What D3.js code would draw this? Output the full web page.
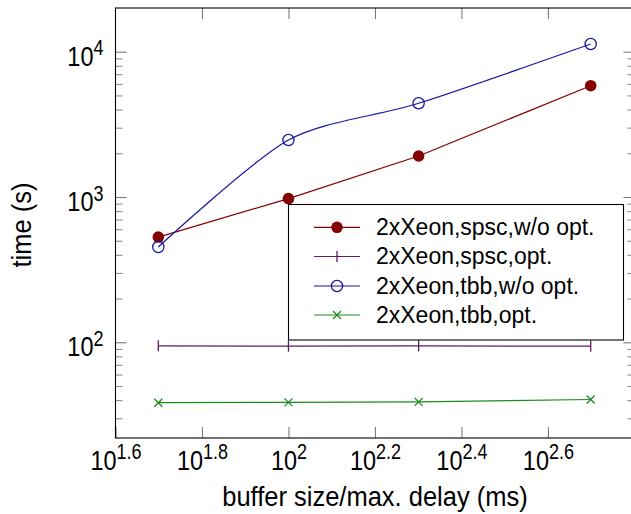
<!DOCTYPE html>
<html><head><meta charset="utf-8">
<script src="https://cdn.jsdelivr.net/npm/d3@7"></script>
<style>
html,body{margin:0;padding:0;background:#fff;}
svg{display:block;font-family:"Liberation Sans",Arial,sans-serif;}
</style></head><body>
<svg id="chart" width="631" height="514"></svg>
<script>
// ---- data ----
const bufferSizes = [50, 100, 200, 500];
const spscNoOpt = [530, 975, 1915, 5835];
const spscOpt = [94.5, 94, 94.5, 94];
const tbbNoOpt = [453, 2467, 4415, 11300];
const tbbOpt = [38.4, 38.6, 38.9, 40.4];
const seriesNames = ["2xXeon,spsc,w/o opt.", "2xXeon,spsc,opt.", "2xXeon,tbb,w/o opt.", "2xXeon,tbb,opt."];
const xTickExponents = ["1.6", "1.8", "2", "2.2", "2.4", "2.6"];
const yTickExponents = ["2", "3", "4"];
const xAxisLabel = "buffer size/max. delay (ms)";
const yAxisLabel = "time (s)";

// ---- styles ----
const seriesValues = [spscNoOpt, spscOpt, tbbNoOpt, tbbOpt];
const seriesColors = ["#850000", "#5e1d5e", "#1515a0", "#1a8c1a"];
const seriesMarkers = ["dot", "bar", "circle", "cross"];
const seriesSmooth = [false, false, true, false];

const svg = d3.select("#chart");
const pLeft = 115.5, pRight = 634.4, pTop = 8, pBottom = 438;
const x = d3.scaleLog().domain([Math.pow(10, 1.6), Math.pow(10, 2.8)]).range([pLeft, pRight]);
const y = d3.scaleLog().domain([Math.pow(10, 1.3413), Math.pow(10, 4.3008)]).range([pBottom, pTop]);

const xTicks = xTickExponents.map(e => Math.pow(10, +e));
const yTicks = yTickExponents.map(e => Math.pow(10, +e));
const yMinor = [];
for (let d = 1; d <= 4; d++) for (let m = 2; m <= 9; m++) {
  const v = m * Math.pow(10, d);
  if (v > y.domain()[0] && v < y.domain()[1]) yMinor.push(v);
}

svg.append("defs").append("clipPath").attr("id", "clip")
  .append("rect").attr("x", pLeft).attr("y", pTop).attr("width", pRight - pLeft).attr("height", pBottom - pTop);

const tickColor = "#7a7a7a", minorColor = "#8f8f8f";
const TICK_K = 1.18;
function styleTicks(g, color) {
  g.select(".domain").remove();
  g.selectAll(".tick line").attr("stroke", color).attr("stroke-width", 1.1);
}
function powLabel(sel, exps, tx, ty) {
  sel.each(function(d, i) {
    const t = d3.select(this);
    t.text(null)
      .attr("x", 0).attr("y", 0).attr("dy", null)
      .attr("transform", `translate(${tx},${ty}) scale(1,${TICK_K})`)
      .attr("font-size", 23.5).attr("fill", "#000")
      .attr("font-family", "Liberation Sans, Arial, sans-serif");
    t.append("tspan").text("10");
    t.append("tspan").attr("font-size", 18).attr("dy", -8.6).text(exps[i]);
  });
}

// x axis bottom
const gxb = svg.append("g").attr("transform", `translate(0,${pBottom})`)
  .call(d3.axisBottom(x).tickValues(xTicks).tickSize(-11).tickFormat(() => ""));
styleTicks(gxb, tickColor);
gxb.selectAll(".tick text").call(powLabel, xTickExponents, 0, 31.5);

// x axis top
const gxt = svg.append("g").attr("transform", `translate(0,${pTop})`)
  .call(d3.axisTop(x).tickValues(xTicks.slice(1)).tickSize(-11).tickFormat(() => ""));
styleTicks(gxt, tickColor);

// y axis left
const gyl = svg.append("g").attr("transform", `translate(${pLeft},0)`)
  .call(d3.axisLeft(y).tickValues(yTicks).tickSize(-11).tickFormat(() => ""));
styleTicks(gyl, tickColor);
gyl.selectAll(".tick text").call(powLabel, yTickExponents, -12, 13.3);
const gylm = svg.append("g").attr("transform", `translate(${pLeft},0)`)
  .call(d3.axisLeft(y).tickValues(yMinor).tickSize(-7).tickFormat(() => ""));
styleTicks(gylm, minorColor);

// y axis right
const gyr = svg.append("g").attr("transform", `translate(${pRight},0)`)
  .call(d3.axisRight(y).tickValues(yTicks).tickSize(-11).tickFormat(() => ""));
styleTicks(gyr, tickColor);
const gyrm = svg.append("g").attr("transform", `translate(${pRight},0)`)
  .call(d3.axisRight(y).tickValues(yMinor).tickSize(-7).tickFormat(() => ""));
styleTicks(gyrm, minorColor);

// marker drawing
function drawMarker(g, type, cx, cy, color) {
  if (type === "dot") {
    g.append("circle").attr("cx", cx).attr("cy", cy).attr("r", 5.8).attr("fill", color);
  } else if (type === "circle") {
    g.append("circle").attr("cx", cx).attr("cy", cy).attr("r", 5.6)
      .attr("fill", "none").attr("stroke", color).attr("stroke-width", 1.3);
  } else if (type === "bar") {
    g.append("line").attr("x1", cx).attr("x2", cx).attr("y1", cy - 5.5).attr("y2", cy + 5.5)
      .attr("stroke", color).attr("stroke-width", 1.3);
  } else if (type === "cross") {
    const s = 4;
    g.append("path").attr("d", `M${cx - s},${cy - s}L${cx + s},${cy + s}M${cx - s},${cy + s}L${cx + s},${cy - s}`)
      .attr("stroke", color).attr("stroke-width", 1.3).attr("fill", "none");
  }
}

// series
const plot = svg.append("g").attr("clip-path", "url(#clip)");
seriesValues.forEach((vals, s) => {
  const line = d3.line().x((d, i) => x(bufferSizes[i])).y(d => y(d))
    .curve(seriesSmooth[s] ? d3.curveCardinal.tension(0.2) : d3.curveLinear);
  plot.append("path").attr("d", line(vals)).attr("fill", "none")
    .attr("stroke", seriesColors[s]).attr("stroke-width", 1.2);
  const mg = plot.append("g");
  vals.forEach((v, i) => drawMarker(mg, seriesMarkers[s], x(bufferSizes[i]), y(v), seriesColors[s]));
});

// frame
svg.append("rect").attr("x", pLeft).attr("y", pTop).attr("width", pRight - pLeft).attr("height", pBottom - pTop)
  .attr("fill", "none").attr("stroke", "#000").attr("stroke-width", 1.1);

// legend
const lg = svg.append("g");
lg.append("rect").attr("x", 288.5).attr("y", 204.5).attr("width", 335).attr("height", 135.5)
  .attr("fill", "#fff").attr("stroke", "#000").attr("stroke-width", 1.1);
const rowY = [227.3, 256.5, 286, 315];
seriesNames.forEach((name, s) => {
  const ry = rowY[s];
  lg.append("line").attr("x1", 314).attr("x2", 360).attr("y1", ry).attr("y2", ry)
    .attr("stroke", seriesColors[s]).attr("stroke-width", 1.2);
  drawMarker(lg, seriesMarkers[s], 337, ry, seriesColors[s]);
  lg.append("text").attr("transform", `translate(376,${ry + 7.8}) scale(1,1.08)`)
    .attr("font-size", 23).attr("fill", "#000").text(name);
});

// axis titles
svg.append("text").attr("transform", `translate(${(pLeft + pRight) / 2},506) scale(1,1.05)`)
  .attr("text-anchor", "middle").attr("font-size", 25.5).attr("fill", "#000").text(xAxisLabel);
svg.append("text").attr("transform", "translate(31,225) rotate(-90) scale(1,1.05)").attr("text-anchor", "middle")
  .attr("font-size", 25.5).attr("fill", "#000").text(yAxisLabel);
</script>
</body></html>
